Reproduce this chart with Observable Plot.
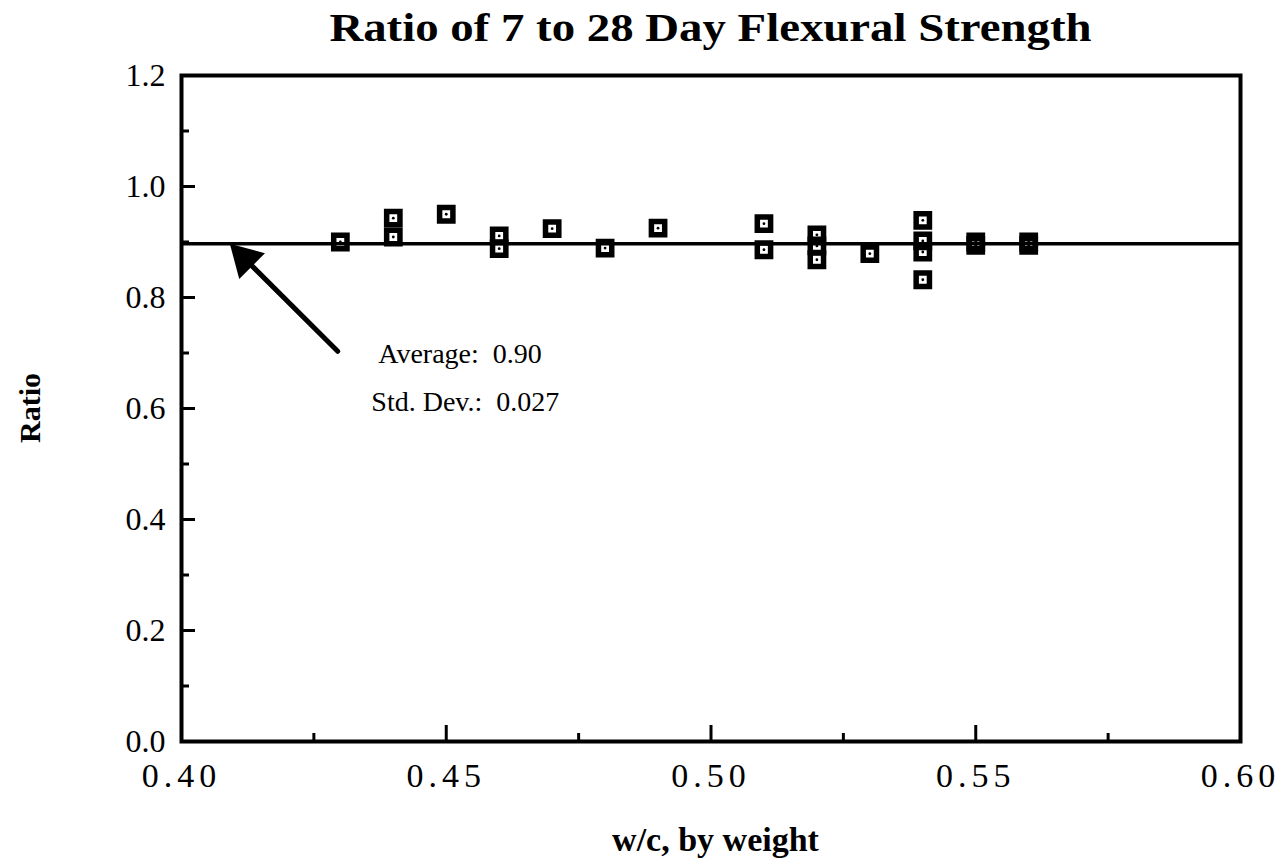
<!DOCTYPE html>
<html>
<head>
<meta charset="utf-8">
<script src="https://cdn.jsdelivr.net/npm/d3@7"></script>
<script src="https://cdn.jsdelivr.net/npm/@observablehq/plot@0.6"></script>
<style>
  body { margin: 0; background: white; }
  #chart { position: relative; width: 1283px; height: 866px; font-family: "Liberation Serif", serif; }
  #chart svg { position: absolute; left: 0; top: 0; }
  .title { position: absolute; left: 181px; width: 1059px; top: 8px; text-align: center; font-size: 40px; line-height: 40px; font-weight: bold; transform: scaleX(1.17); transform-origin: 50% 50%; white-space: nowrap; }
  .xlabel { position: absolute; left: 186px; width: 1059px; top: 823px; text-align: center; font-size: 34px; line-height: 34px; font-weight: bold; white-space: nowrap; }
  .ylabel { position: absolute; left: 30px; top: 408px; transform: translate(-50%, -50%) rotate(-90deg); font-size: 30px; line-height: 30px; font-weight: bold; white-space: nowrap; }
  #chart g[aria-label="x-axis tick label"] text { letter-spacing: 5px; }
</style>
</head>
<body>
<div id="chart">
  <div class="title">Ratio of 7 to 28 Day Flexural Strength</div>
  <div class="ylabel">Ratio</div>
  <div class="xlabel">w/c, by weight</div>
</div>
<script>
// Data
const wc    = [0.43, 0.44, 0.44, 0.45, 0.46, 0.46, 0.47, 0.48, 0.49, 0.51, 0.51, 0.52, 0.52, 0.52, 0.53, 0.54, 0.54, 0.54, 0.54, 0.55, 0.55, 0.56, 0.56];
const ratio = [0.900, 0.943, 0.909, 0.950, 0.911, 0.888, 0.924, 0.889, 0.925, 0.933, 0.886, 0.913, 0.893, 0.868, 0.879, 0.939, 0.902, 0.882, 0.832, 0.900, 0.894, 0.900, 0.894];
const average = [0.897];

// Tick values
const yMajor = [0, 0.2, 0.4, 0.6, 0.8, 1.0, 1.2];
const yMinor = [0.1, 0.3, 0.5, 0.7, 0.9, 1.1];
const xMajor = [0.40, 0.45, 0.50, 0.55, 0.60];
const xMinor = [0.425, 0.475, 0.525, 0.575];

// Annotation
const arrowFrom = [0.4295, 0.703];
const arrowTo   = [0.4091, 0.897];
const noteText  = ["Average:\u00a0 0.90", "Std. Dev.:\u00a0 0.027"];
const noteX     = [0.4526, 0.4536];
const noteY     = [0.698, 0.611];

const points = wc.map((x, i) => ({x, y: ratio[i]}));
const arrow = [{x1: arrowFrom[0], y1: arrowFrom[1], x2: arrowTo[0], y2: arrowTo[1]}];
const notes = noteText.map((t, i) => ({t, x: noteX[i], y: noteY[i]}));

const W = 1283, H = 866, mT = 75, mR = 43, mB = 125, mL = 181;
const pw = W - mL - mR, ph = H - mT - mB;

const chart = Plot.plot({
  width: W, height: H,
  marginTop: mT, marginRight: mR, marginBottom: mB, marginLeft: mL,
  style: {fontFamily: "Liberation Serif", color: "black", background: "white"},
  x: {domain: [0.40, 0.60]},
  y: {domain: [0, 1.2]},
  marks: [
    Plot.axisY(yMajor, {tickSize: 0, tickPadding: 16, tickFormat: d3.format(".1f"), fontSize: 32, label: null}),
    Plot.axisX(xMajor, {tickSize: 0, tickPadding: 21, tickFormat: d3.format(".2f"), fontSize: 34, label: null}),
    Plot.tickY(yMajor, {y: d => d, insetRight: pw - 14, strokeWidth: 3, stroke: "black"}),
    Plot.tickY(yMinor, {y: d => d, insetRight: pw - 8, strokeWidth: 3, stroke: "black"}),
    Plot.tickX(xMajor, {x: d => d, insetTop: ph - 16, strokeWidth: 3, stroke: "black"}),
    Plot.tickX(xMinor, {x: d => d, insetTop: ph - 8, strokeWidth: 3, stroke: "black"}),
    Plot.ruleY(average, {strokeWidth: 3.5, stroke: "black"}),
    Plot.dot(points, {x: "x", y: "y", symbol: "square", r: 7.5, stroke: "black", strokeWidth: 5.5, fill: "none"}),
    Plot.dot(points, {x: "x", y: "y", r: 1.4, fill: "black", stroke: "none"}),
    Plot.arrow(arrow, {x1: "x1", y1: "y1", x2: "x2", y2: "y2", headLength: 0, insetEnd: 18, strokeWidth: 5, stroke: "black"}),
    Plot.dot(arrow, {x: "x2", y: "y2", symbol: "triangle", r: 13.5, fill: "black", stroke: "none", rotate: -45, dx: 15, dy: 15}),
    Plot.text(notes, {x: "x", y: "y", text: "t", fontSize: 28, textAnchor: "middle", fill: "black"}),
    Plot.frame({strokeWidth: 4, stroke: "black"})
  ]
});
document.getElementById("chart").prepend(chart);
</script>
</body>
</html>
